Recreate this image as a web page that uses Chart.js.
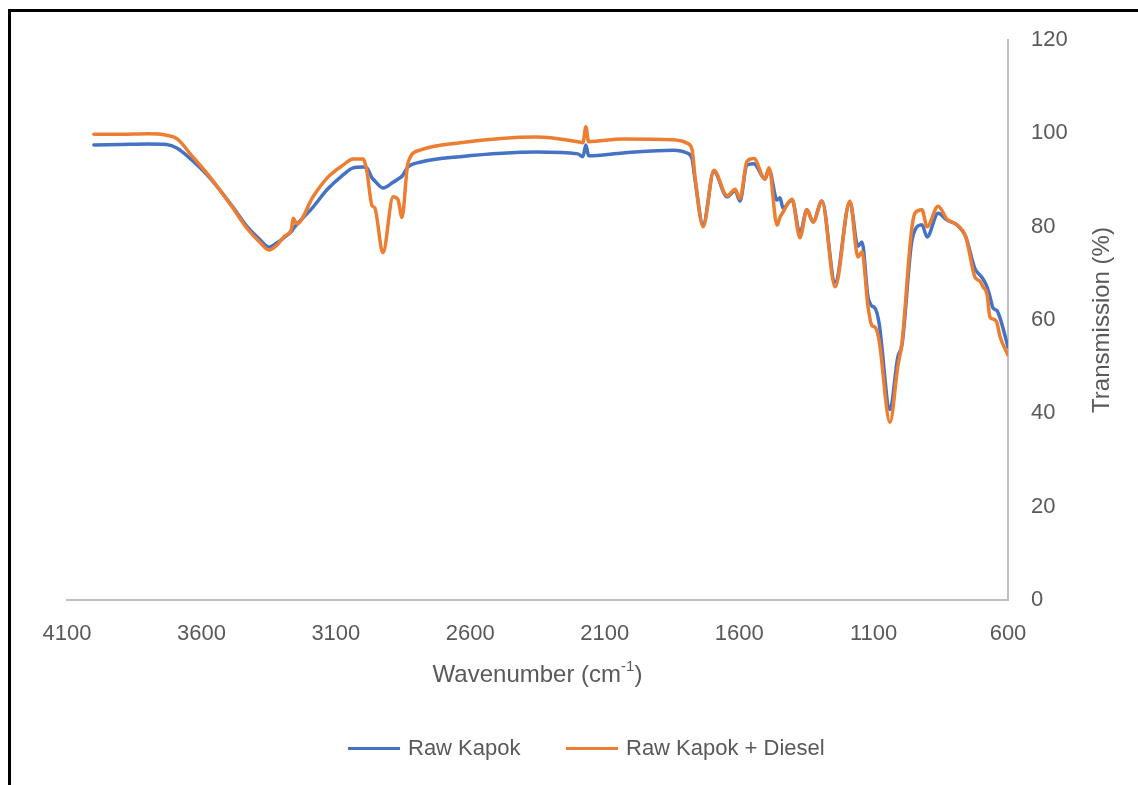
<!DOCTYPE html>
<html>
<head>
<meta charset="utf-8">
<title>FTIR Raw Kapok</title>
<script src="https://cdn.jsdelivr.net/npm/chart.js@4.4.0/dist/chart.umd.min.js"></script>
<style>
    html, body { margin: 0; padding: 0; background: #fff; overflow: hidden; }
    #wrap { position: relative; width: 1138px; height: 785px; overflow: hidden; }
    #frame { position: absolute; left: 8px; top: 9px; width: 1200px; height: 900px; border-left: 3px solid #000; border-top: 3px solid #000; }
    #ftirChart { position: absolute; left: 0; top: 0; }
    .legend-item { position: absolute; top: 735px; height: 26px; line-height: 26px; font: 22px "Liberation Sans", Arial, sans-serif; color: #595959; display: flex; align-items: center; white-space: nowrap; }
    .legend-item .bar { display: inline-block; width: 52px; height: 3px; margin-right: 8px; }
</style>
</head>
<body>
<div id="wrap">
    <div id="frame"></div>
    <canvas id="ftirChart" width="1138" height="785"></canvas>
    <div id="legend"></div>
</div>
<script>
const seriesNames = ["Raw Kapok", "Raw Kapok + Diesel"];
const seriesColors = ["#4472C4", "#ED7D31"];
const xTicks = [600, 1100, 1600, 2100, 2600, 3100, 3600, 4100];
const yTicks = [0, 20, 40, 60, 80, 100, 120];
const xTitleParts = ["Wavenumber (cm", "-1", ")"];
const yTitle = "Transmission (%)";
const textColor = "#595959";
const axisColor = "#BFBFBF";

// wavenumber (cm-1)
const wavenumbers = [
    4000, 3900, 3800, 3730, 3690, 3640, 3568, 3483, 3430, 3382,
    3349, 3320, 3290, 3265, 3259, 3245, 3185, 3133, 3073, 3036,
    2999, 2985, 2966, 2955, 2925, 2887, 2869, 2854, 2832, 2787,
    2638, 2352, 2200, 2181, 2170, 2160, 2032, 1846, 1794, 1775,
    1764, 1734, 1694, 1645, 1615, 1597, 1571, 1545, 1504, 1489,
    1459, 1448, 1437, 1403, 1374, 1348, 1325, 1292, 1243, 1188,
    1158, 1143, 1121, 1106, 1095, 1080, 1039, 1010, 994, 960,
    946, 920, 901, 860, 827, 790, 757, 723, 704, 693,
    678, 667, 656, 641, 630, 600
];

// transmission (%) - Raw Kapok
const rawKapok = [
    97.5, 97.6, 97.7, 97.6, 96.8, 94.5, 90.4, 84.2, 80.0, 77.2,
    75.6, 76.5, 77.8, 79.0, 79.5, 80.5, 84.2, 87.9, 91.1, 92.6,
    92.8, 92.6, 90.5, 89.8, 88.3, 89.5, 90.2, 90.8, 92.8, 93.8,
    95.0, 96.0, 95.6, 95.0, 97.5, 95.2, 95.8, 96.4, 95.8, 94.5,
    90.0, 80.5, 91.8, 86.4, 87.7, 85.5, 93.2, 93.5, 90.2, 92.3,
    85.7, 86.2, 84.0, 85.7, 78.6, 83.6, 81.0, 85.5, 68.1, 85.3,
    75.8, 76.7, 65.0, 63.0, 62.6, 59.5, 40.8, 52.0, 54.8, 76.0,
    79.3, 80.4, 77.8, 82.9, 81.4, 80.4, 77.8, 71.0, 69.6, 68.8,
    67.1, 65.0, 62.6, 62.0, 60.5, 54.2
];

// transmission (%) - Raw Kapok + Diesel
const kapokDiesel = [
    99.8, 99.8, 99.9, 99.6, 98.8, 95.5, 90.6, 84.0, 79.6, 76.6,
    75.0, 76.0, 78.0, 79.5, 81.8, 80.6, 86.4, 90.4, 93.2, 94.5,
    94.5, 92.0, 84.6, 84.0, 74.4, 86.4, 85.8, 82.0, 93.6, 96.4,
    98.0, 99.2, 98.2, 98.0, 101.4, 98.2, 98.8, 98.6, 97.9, 96.5,
    90.6, 80.0, 92.1, 86.6, 88.0, 86.0, 94.0, 94.6, 90.2, 92.6,
    80.3, 82.0, 83.1, 85.9, 77.6, 83.6, 81.0, 85.5, 67.1, 85.5,
    73.5, 74.6, 63.0, 58.8, 58.5, 55.8, 38.1, 50.0, 55.3, 78.6,
    82.9, 83.6, 80.0, 84.4, 81.6, 80.4, 77.8, 69.2, 68.3, 67.1,
    65.5, 60.6, 60.2, 59.4, 56.5, 52.5
];

const fontFamily = '"Liberation Sans", Arial, sans-serif';
Chart.defaults.font.family = fontFamily;
Chart.defaults.color = textColor;

function toPoints(values) {
    return wavenumbers.map((wn, i) => ({ x: wn, y: values[i] }));
}

// right-hand title reads bottom to top, x title has a superscript
const axisTitles = {
    id: "axisTitles",
    afterDraw(chart) {
        const { ctx, chartArea } = chart;
        ctx.save();
        ctx.fillStyle = textColor;
        ctx.textBaseline = "middle";
        ctx.textAlign = "left";

        const mainFont = "24px " + fontFamily;
        const supFont = "15px " + fontFamily;
        ctx.font = mainFont;
        const w1 = ctx.measureText(xTitleParts[0]).width;
        const w3 = ctx.measureText(xTitleParts[2]).width;
        ctx.font = supFont;
        const w2 = ctx.measureText(xTitleParts[1]).width;
        let x = (chartArea.left + chartArea.right) / 2 - (w1 + w2 + w3) / 2;
        const y = chartArea.bottom + 75;
        ctx.font = mainFont;
        ctx.fillText(xTitleParts[0], x, y);
        x += w1;
        ctx.font = supFont;
        ctx.fillText(xTitleParts[1], x, y - 8);
        x += w2;
        ctx.font = mainFont;
        ctx.fillText(xTitleParts[2], x, y);

        ctx.translate(chartArea.right + 94, (chartArea.top + chartArea.bottom) / 2);
        ctx.rotate(-Math.PI / 2);
        ctx.textAlign = "center";
        ctx.fillText(yTitle, 0, 0);
        ctx.restore();
    }
};

function renderLegend() {
    const legend = document.getElementById("legend");
    const lefts = [348, 566];
    legend.innerHTML = seriesNames.map((name, i) => `
        <div class="legend-item" style="left:${lefts[i]}px">
            <span class="bar" style="background:${seriesColors[i]}"></span>${name}
        </div>
    `).join("");
}

function renderChart() {
    const ctx = document.getElementById("ftirChart");
    new Chart(ctx, {
        type: "line",
        data: {
            datasets: [
                {
                    label: seriesNames[0],
                    data: toPoints(rawKapok),
                    borderColor: seriesColors[0],
                    backgroundColor: seriesColors[0],
                    order: 1
                },
                {
                    label: seriesNames[1],
                    data: toPoints(kapokDiesel),
                    borderColor: seriesColors[1],
                    backgroundColor: seriesColors[1],
                    order: 0
                }
            ]
        },
        options: {
            responsive: false,
            animation: false,
            layout: { padding: { left: 67, top: 40, right: 0, bottom: 0 } },
            plugins: {
                legend: { display: false },
                tooltip: { enabled: false }
            },
            elements: {
                point: { radius: 0 },
                line: { borderWidth: 3.5, cubicInterpolationMode: "monotone", borderCapStyle: "round", borderJoinStyle: "round" }
            },
            scales: {
                x: {
                    type: "linear",
                    reverse: true,
                    min: 600,
                    max: 4100,
                    afterBuildTicks: scale => { scale.ticks = xTicks.map(v => ({ value: v })); },
                    afterFit: scale => { scale.height = 185; },
                    ticks: { autoSkip: false, maxRotation: 0, padding: 21, font: { size: 22 }, color: textColor, callback: value => String(value) },
                    grid: { drawOnChartArea: false, drawTicks: false },
                    border: { color: axisColor, width: 2 }
                },
                y: {
                    position: "right",
                    min: 0,
                    max: 120,
                    afterBuildTicks: scale => { scale.ticks = yTicks.map(v => ({ value: v })); },
                    afterFit: scale => { scale.width = 130; },
                    ticks: { padding: 23, font: { size: 22 }, color: textColor, callback: value => String(value) },
                    grid: { drawOnChartArea: false, drawTicks: false },
                    border: { color: axisColor, width: 2 }
                }
            }
        },
        plugins: [axisTitles]
    });
}

window.addEventListener("load", () => {
    renderLegend();
    renderChart();
});
</script>
</body>
</html>
